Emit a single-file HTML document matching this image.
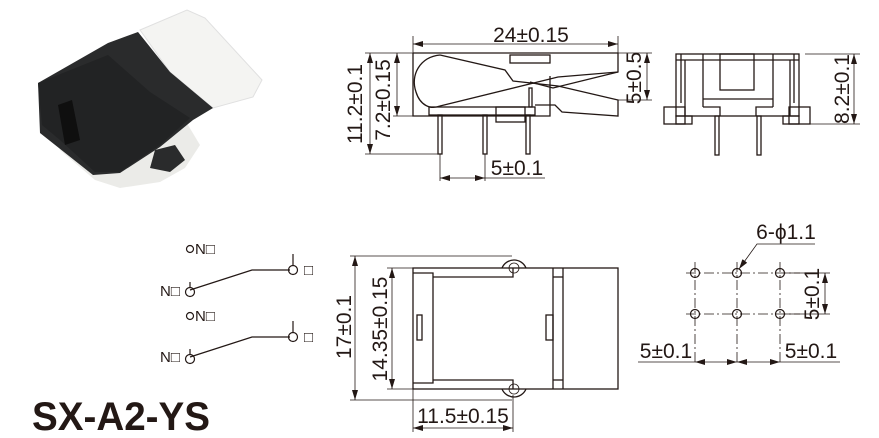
<!DOCTYPE html>
<html><head><meta charset="utf-8"><style>
html,body{margin:0;padding:0;background:#fff;}
svg{display:block;}
text{font-family:"Liberation Sans",Arial,sans-serif;fill:#231815;}
</style></head><body>
<svg width="879" height="438" viewBox="0 0 879 438" xmlns="http://www.w3.org/2000/svg">
<defs>
<marker id="a" viewBox="0 0 10 6" refX="10" refY="3" markerWidth="10" markerHeight="6" orient="auto-start-reverse" markerUnits="userSpaceOnUse"><path d="M0,0 L10,3 L0,6 z" fill="#231815"/></marker>
</defs>
<!-- photo -->
<g>
<polygon points="140,30 187,10 205,18 262,80 253,97 213,108 170,72" fill="#f4f4f2" stroke="#e0e0e0" stroke-width="1"/>
<polygon points="40,88 100,62 120,60 185,120 200,145 185,168 160,182 120,188 95,180 60,150" fill="#ebebe8"/>
<polygon points="108,43 138,32 170,72 213,108 193,120 160,147 120,173 93,175 40,133 38,83" fill="#2a2b2c"/>
<polygon points="38,83 108,55 150,92 190,118 160,145 120,172 95,172 60,140 42,125" fill="#222324"/>
<polygon points="58,105 72,100 80,140 65,145" fill="#0f0f0f"/>
<polygon points="155,150 175,145 185,160 170,172 150,168" fill="#2a2b2c"/>
</g>
<g fill="none" stroke="#231815" stroke-width="1.3">
<path d="M413,53 H618 V72 L553,88 L530,82"/>
<path d="M413,53 V116 H550 V76"/>
<path d="M440,55 C420,57 410,75 416,92 C420,105 430,110 440,106"/>
<path d="M440,55 L505,70 L513,81 L558,86 L618,100 V116 L562,112 L555,105 L535,105"/>
<path d="M440,106 L558,77 L618,72"/>
<rect x="510" y="55" width="40" height="8"/>
<rect x="429" y="107" width="106" height="8"/>
<rect x="496" y="107" width="29" height="15"/>
<rect x="438" y="115" width="4" height="39"/>
<rect x="483" y="115" width="4" height="39"/>
<rect x="526" y="115" width="4" height="39"/>
<rect x="529" y="88" width="3" height="19"/>
</g>
<g stroke="#231815" stroke-width="0.8" fill="none">
<line x1="413" y1="36" x2="413" y2="53"/><line x1="618" y1="36" x2="618" y2="53"/>
<line x1="413" y1="44" x2="618" y2="44" marker-start="url(#a)" marker-end="url(#a)"/>
<line x1="365" y1="53" x2="413" y2="53"/><line x1="393" y1="116" x2="413" y2="116"/><line x1="365" y1="154" x2="440" y2="154"/>
<line x1="370" y1="53" x2="370" y2="154" marker-start="url(#a)" marker-end="url(#a)"/>
<line x1="397" y1="53" x2="397" y2="116" marker-start="url(#a)" marker-end="url(#a)"/>
<line x1="440" y1="154" x2="440" y2="181"/><line x1="485" y1="154" x2="485" y2="181"/>
<line x1="440" y1="178" x2="485" y2="178" marker-start="url(#a)" marker-end="url(#a)"/>
<line x1="485" y1="178" x2="545" y2="178"/>
<line x1="618" y1="53" x2="652" y2="53"/><line x1="618" y1="100" x2="652" y2="100"/>
<line x1="647" y1="53" x2="647" y2="100" marker-start="url(#a)" marker-end="url(#a)"/>
</g>
<g font-size="21" text-anchor="middle">
<text x="531" y="42">24±0.15</text>
<text x="517" y="175">5±0.1</text>
<text transform="translate(362,104) rotate(-90)">11.2±0.1</text>
<text transform="translate(390,100) rotate(-90)">7.2±0.15</text>
<text transform="translate(641,78) rotate(-90)">5±0.5</text>
</g>
<!-- front view -->
<g fill="none" stroke="#231815" stroke-width="1.3">
<rect x="676" y="54" width="123" height="62"/>
<line x1="676" y1="60" x2="799" y2="60"/>
<line x1="681" y1="54" x2="681" y2="103"/><line x1="794" y1="54" x2="794" y2="103"/>
<line x1="685" y1="60" x2="685" y2="116"/><line x1="703" y1="54" x2="703" y2="107"/>
<line x1="773" y1="54" x2="773" y2="107"/><line x1="790" y1="60" x2="790" y2="116"/>
<rect x="720" y="54" width="34" height="36"/>
<line x1="703" y1="99" x2="773" y2="99"/>
<path d="M703,107 H720 V116 M773,107 H756 V116"/>
<rect x="664" y="107" width="21" height="17"/><rect x="676" y="116" width="16" height="8"/>
<rect x="789" y="107" width="21" height="17"/><rect x="783" y="116" width="16" height="8"/>
<rect x="715" y="116" width="4" height="39"/><rect x="757" y="116" width="4" height="39"/>
</g>
<g stroke="#231815" stroke-width="0.8" fill="none">
<line x1="805" y1="54" x2="860" y2="54"/><line x1="810" y1="124" x2="860" y2="124"/>
<line x1="854" y1="54" x2="854" y2="124" marker-start="url(#a)" marker-end="url(#a)"/>
</g>
<text font-size="21" text-anchor="middle" transform="translate(849,89) rotate(-90)">8.2±0.1</text>
<!-- hole pattern -->
<g stroke="#231815" stroke-width="0.8" fill="none">
<g stroke-dasharray="10,3,2,3">
<line x1="686" y1="273" x2="800" y2="273"/><line x1="686" y1="314" x2="800" y2="314"/>
<line x1="695" y1="262" x2="695" y2="365"/><line x1="737" y1="262" x2="737" y2="365"/><line x1="780" y1="262" x2="780" y2="365"/>
</g>
<circle cx="695" cy="273" r="4.5" stroke-width="1.2"/><circle cx="737" cy="273" r="4.5" stroke-width="1.2"/><circle cx="780" cy="273" r="4.5" stroke-width="1.2"/>
<circle cx="695" cy="314" r="4.5" stroke-width="1.2"/><circle cx="737" cy="314" r="4.5" stroke-width="1.2"/><circle cx="780" cy="314" r="4.5" stroke-width="1.2"/>
<polyline points="815,244 757,244 739,269" marker-end="url(#a)"/>
<line x1="785" y1="273" x2="830" y2="273"/><line x1="785" y1="314" x2="830" y2="314"/>
<line x1="825" y1="273" x2="825" y2="314" marker-start="url(#a)" marker-end="url(#a)"/>
<line x1="638" y1="362" x2="695" y2="362"/><line x1="780" y1="362" x2="840" y2="362"/>
<line x1="695" y1="362" x2="737" y2="362" marker-start="url(#a)" marker-end="url(#a)"/>
<line x1="737" y1="362" x2="780" y2="362" marker-start="url(#a)" marker-end="url(#a)"/>
</g>
<g font-size="21" text-anchor="middle">
<text x="786" y="239">6-ϕ1.1</text>
<text x="666" y="358">5±0.1</text>
<text x="811" y="358">5±0.1</text>
<text transform="translate(819,294) rotate(-90)">5±0.1</text>
</g>
<!-- top view -->
<g fill="none" stroke="#231815" stroke-width="1.3">
<path d="M502,268 A13,13 0 0 1 526,268"/>
<path d="M502,389 A13,13 0 0 0 526,389"/>
<circle cx="514" cy="268" r="5" stroke-width="0.8"/><circle cx="514" cy="389" r="5" stroke-width="0.8"/>
<rect x="413" y="268" width="205" height="121"/>
<path d="M413,273 H433 V383 H413"/>
<path d="M433,277 H513 V268 M433,380 H513 V389"/>
<line x1="553" y1="268" x2="553" y2="389"/><line x1="563" y1="268" x2="563" y2="389"/>
<line x1="553" y1="277" x2="563" y2="277"/><line x1="553" y1="380" x2="563" y2="380"/>
<rect x="417" y="315" width="5" height="25"/><rect x="546" y="315" width="7" height="25"/>
</g>
<g stroke="#231815" stroke-width="0.8" fill="none">
<line x1="350" y1="256" x2="512" y2="256"/><line x1="350" y1="400" x2="512" y2="400"/>
<line x1="355" y1="256" x2="355" y2="400" marker-start="url(#a)" marker-end="url(#a)"/>
<line x1="387" y1="268" x2="413" y2="268"/><line x1="387" y1="389" x2="413" y2="389"/>
<line x1="392" y1="268" x2="392" y2="389" marker-start="url(#a)" marker-end="url(#a)"/>
<line x1="413" y1="389" x2="413" y2="432"/><line x1="513" y1="395" x2="513" y2="432"/>
<line x1="413" y1="428" x2="513" y2="428" marker-start="url(#a)" marker-end="url(#a)"/>
</g>
<g font-size="21" text-anchor="middle">
<text x="463" y="423">11.5±0.15</text>
<text transform="translate(351,327) rotate(-90)">17±0.1</text>
<text transform="translate(387,329) rotate(-90)">14.35±0.15</text>
</g>
<!-- schematic -->
<g fill="none" stroke="#231815" stroke-width="1.2">
<circle cx="190" cy="249" r="3.5"/>
<circle cx="190" cy="292" r="4.5"/><line x1="190" y1="282" x2="190" y2="288"/>
<polyline points="190,290 252,270 290,270"/>
<circle cx="293" cy="270" r="4.5"/><line x1="293" y1="254" x2="293" y2="266"/>
<circle cx="190" cy="316" r="3.5"/>
<circle cx="190" cy="359" r="4.5"/><line x1="190" y1="349" x2="190" y2="355"/>
<polyline points="190,357 252,337 290,337"/>
<circle cx="293" cy="337" r="4.5"/><line x1="293" y1="321" x2="293" y2="333"/>
</g>
<g font-size="15">
<text x="195" y="254">N□</text>
<text x="160" y="296">N□</text>
<text x="304" y="275">□</text>
<text x="195" y="321">N□</text>
<text x="160" y="362">N□</text>
<text x="304" y="342">□</text>
</g>
<text x="32" y="430" font-size="40" font-weight="bold" textLength="178" lengthAdjust="spacingAndGlyphs">SX-A2-YS</text>
</svg>
</body></html>
